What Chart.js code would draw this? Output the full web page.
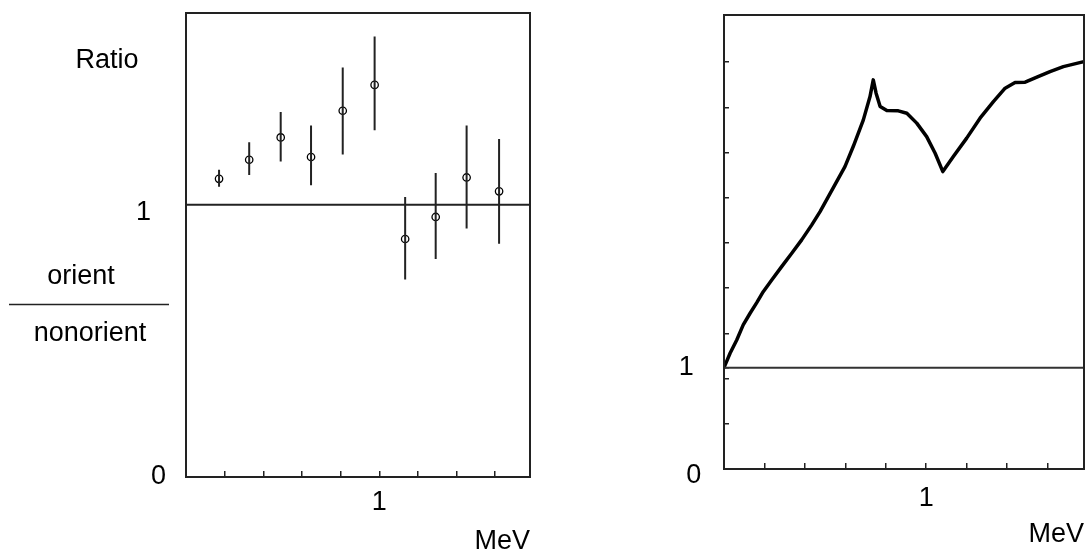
<!DOCTYPE html>
<html>
<head>
<meta charset="utf-8">
<script src="https://cdn.jsdelivr.net/npm/chart.js@4.4.1/dist/chart.umd.min.js"></script>
<style>
  body { margin: 0; background: #fff; }
  #left { position: absolute; left: 0; top: 0; }
  #right { position: absolute; left: 545px; top: 0; }
</style>
</head>
<body>
<canvas id="left" width="545" height="554"></canvas>
<canvas id="right" width="540" height="554"></canvas>
<script>
// left panel: measured ratio with error bars
const leftEnergy  = [0.171, 0.327, 0.490, 0.647, 0.811, 0.976, 1.134, 1.292, 1.452, 1.620];
const leftRatio   = [1.095, 1.165, 1.247, 1.175, 1.345, 1.440, 0.874, 0.955, 1.100, 1.049];
const leftErrLow  = [1.066, 1.109, 1.159, 1.071, 1.184, 1.273, 0.725, 0.801, 0.913, 0.857];
const leftErrHigh = [1.128, 1.229, 1.340, 1.291, 1.504, 1.618, 1.028, 1.116, 1.291, 1.241];

// right panel: calculated curve
const rightEnergy = [0, 0.030, 0.063, 0.095, 0.129, 0.162, 0.194, 0.236, 0.285, 0.335, 0.384, 0.434, 0.475,
  0.516, 0.557, 0.598, 0.639, 0.689, 0.722, 0.738, 0.752, 0.772, 0.805, 0.862, 0.904, 0.953, 1.002,
  1.044, 1.082, 1.134, 1.200, 1.266, 1.332, 1.390, 1.439, 1.489, 1.547, 1.612, 1.678, 1.769, 1.780];
const rightRatio = [1.000, 1.142, 1.273, 1.422, 1.537, 1.642, 1.750, 1.866, 1.997, 2.129, 2.261, 2.409, 2.540,
  2.688, 2.836, 2.984, 3.182, 3.445, 3.675, 3.840, 3.709, 3.577, 3.537, 3.534, 3.511, 3.413, 3.280,
  3.116, 2.935, 3.083, 3.265, 3.462, 3.626, 3.758, 3.813, 3.817, 3.867, 3.922, 3.971, 4.015, 4.020];

// axes
const energyMax = 1.78;
const energyTicks = [0.2, 0.4, 0.6, 0.8, 1.0, 1.2, 1.4, 1.6];
const leftRatioMax = 1.704;
const leftRatioTicks = [0, 1];
const rightRatioMax = 4.48;
const rightRatioTicks = [0, 0.446, 0.892, 1, 1.338, 1.784, 2.23, 2.676, 3.122, 3.568, 4.014];

const FONT = '"Liberation Sans", Arial, sans-serif';
const INK = '#222';

const framePlugin = {
  id: 'frame',
  afterDatasetsDraw(chart) {
    const { ctx, chartArea: a } = chart;
    ctx.save();
    ctx.strokeStyle = INK;
    ctx.lineWidth = 2;
    ctx.strokeRect(a.left, a.top, a.right - a.left, a.bottom - a.top);
    ctx.restore();
  }
};

const ratioLabelPlugin = {
  id: 'ratioLabel',
  afterDraw(chart) {
    const ctx = chart.ctx;
    ctx.save();
    ctx.fillStyle = '#000';
    ctx.font = '27px ' + FONT;
    ctx.textAlign = 'center';
    ctx.textBaseline = 'alphabetic';
    ctx.fillText('Ratio', 107, 68);
    ctx.fillText('orient', 81, 284);
    ctx.fillText('nonorient', 90, 341);
    ctx.strokeStyle = INK;
    ctx.lineWidth = 1.5;
    ctx.beginPath();
    ctx.moveTo(9, 304.5);
    ctx.lineTo(169, 304.5);
    ctx.stroke();
    ctx.restore();
  }
};

const isOne = v => Math.abs(v - 1) < 1e-6;

// fixed axis size, and no extra room for overhanging labels
function fixSize(prop, size) {
  return s => {
    s[prop] = size;
    s.paddingTop = 0; s.paddingBottom = 0; s.paddingLeft = 0; s.paddingRight = 0;
  };
}

function energyAxis(tickPad, titlePadBottom, height) {
  return {
    type: 'linear', position: 'bottom', min: 0, max: energyMax,
    afterBuildTicks: s => { s.ticks = energyTicks.map(v => ({ value: v })); },
    afterFit: fixSize('height', height),
    border: { display: false },
    grid: { drawOnChartArea: false, drawTicks: true, tickLength: -6, color: INK, tickWidth: 1.5, lineWidth: 1.5 },
    ticks: {
      autoSkip: false, maxRotation: 0, padding: tickPad, color: '#000',
      font: { family: FONT, size: 27, lineHeight: 1 },
      callback: v => isOne(v) ? '1' : ''
    },
    title: {
      display: true, text: 'MeV', align: 'end', color: '#000',
      font: { family: FONT, size: 27, lineHeight: 1 },
      padding: { top: 0, bottom: titlePadBottom }
    }
  };
}

// left chart
const errorBars = [];
leftEnergy.forEach((x, i) => {
  errorBars.push({ x, y: leftErrLow[i] }, { x, y: leftErrHigh[i] }, { x, y: null });
});

new Chart(document.getElementById('left'), {
  type: 'scatter',
  data: {
    datasets: [
      { data: [{ x: 0, y: 1 }, { x: energyMax, y: 1 }], showLine: true, borderColor: INK, borderWidth: 2, pointRadius: 0 },
      { data: errorBars, showLine: true, spanGaps: false, borderColor: INK, borderWidth: 2, pointRadius: 0 },
      {
        data: leftEnergy.map((x, i) => ({ x, y: leftRatio[i] })),
        pointStyle: 'circle', pointRadius: 3.7, borderWidth: 1.3,
        borderColor: '#000', backgroundColor: 'rgba(0,0,0,0)'
      }
    ]
  },
  options: {
    responsive: false, animation: false,
    layout: { padding: { top: 13, right: 15, left: 0, bottom: 0 } },
    plugins: { legend: { display: false }, tooltip: { enabled: false } },
    scales: {
      x: energyAxis(18.5, -1, 77),
      y: {
        type: 'linear', min: 0, max: leftRatioMax,
        afterBuildTicks: s => { s.ticks = leftRatioTicks.map(v => ({ value: v })); },
        afterFit: fixSize('width', 186),
        border: { display: false },
        grid: { display: false, drawTicks: false },
        ticks: {
          padding: 20, color: '#000',
          // the "1" sits a little below its line in the original
          font: { family: FONT, size: 27, lineHeight: 0.6 },
          callback: v => isOne(v) ? ['', '1  '] : (v === 0 ? '0' : '')
        }
      }
    }
  },
  plugins: [framePlugin, ratioLabelPlugin]
});

// right chart
new Chart(document.getElementById('right'), {
  type: 'scatter',
  data: {
    datasets: [
      { data: [{ x: 0, y: 1 }, { x: energyMax, y: 1 }], showLine: true, borderColor: '#333', borderWidth: 2, pointRadius: 0 },
      {
        data: rightEnergy.map((x, i) => ({ x, y: rightRatio[i] })),
        showLine: true, borderColor: '#000', borderWidth: 3.5, pointRadius: 0, tension: 0,
        borderJoinStyle: 'round', borderCapStyle: 'round'
      }
    ]
  },
  options: {
    responsive: false, animation: false,
    layout: { padding: { top: 15, right: 1, left: 0, bottom: 0 } },
    plugins: { legend: { display: false }, tooltip: { enabled: false } },
    scales: {
      x: energyAxis(21.8, 5.5, 85),
      y: {
        type: 'linear', min: 0, max: rightRatioMax,
        afterBuildTicks: s => { s.ticks = rightRatioTicks.map(v => ({ value: v })); },
        afterFit: fixSize('width', 179),
        border: { display: false },
        grid: { drawOnChartArea: false, drawTicks: true, tickLength: -5, color: INK, tickWidth: 1.5, lineWidth: 1.5 },
        ticks: {
          autoSkip: false, padding: 27.7, color: '#000',
          font: { family: FONT, size: 27, lineHeight: 0.5 },
          callback: v => isOne(v) ? '1 ' : (v === 0 ? ['', '0'] : '')
        }
      }
    }
  },
  plugins: [framePlugin]
});
</script>
</body>
</html>
